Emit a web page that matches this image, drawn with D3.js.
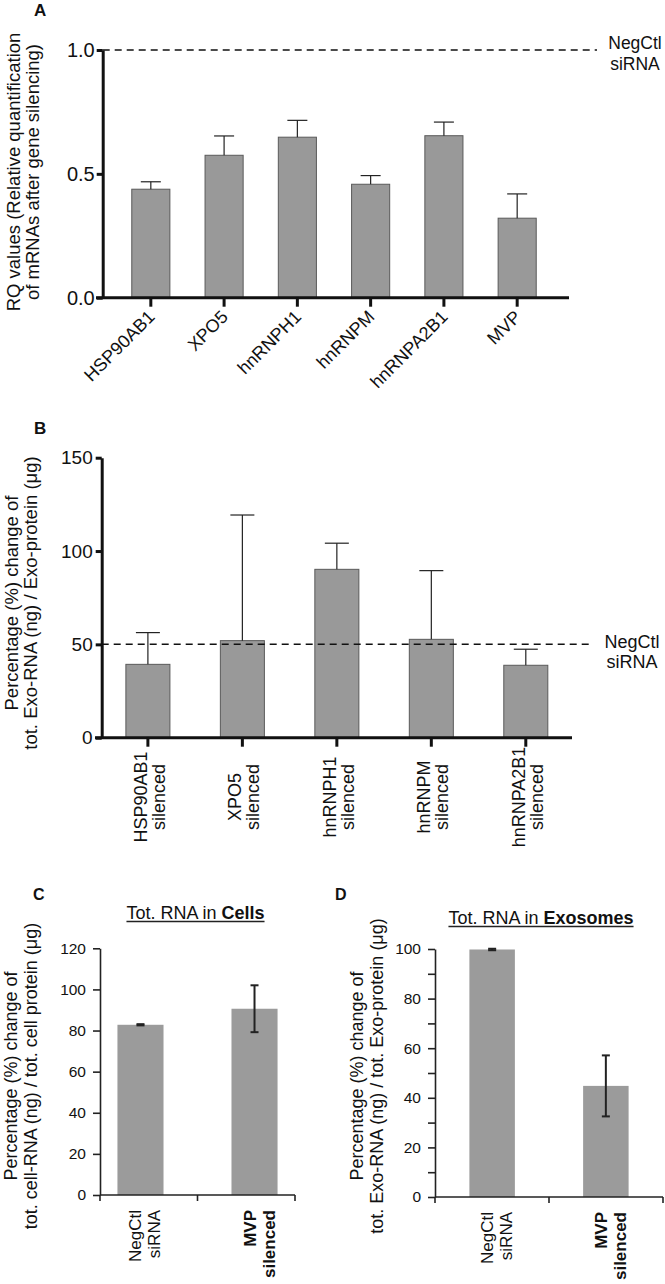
<!DOCTYPE html>
<html><head><meta charset="utf-8">
<script src="https://cdn.jsdelivr.net/npm/d3@7"></script>
<style>
body{margin:0;background:#fff;}
svg{display:block;background:#fff;}
text{font-family:"Liberation Sans",Arial,Helvetica,sans-serif;fill:#111;}
</style>
</head><body>
<svg id="c" width="665" height="1284"></svg>
<script>
// ---------- DATA ----------
// Panel A
const catsA = ["HSP90AB1","XPO5","hnRNPH1","hnRNPM","hnRNPA2B1","MVP"];
const valsA = [0.438,0.575,0.648,0.458,0.654,0.321];
const errA  = [0.030,0.078,0.068,0.035,0.055,0.098];
const ticksA = [0.0,0.5,1.0];
const refA = 1.0;
// Panel B
const catsB = ["HSP90AB1","XPO5","hnRNPH1","hnRNPM","hnRNPA2B1"];
const valsB = [39.3,52.0,90.2,52.7,38.8];
const errB  = [17.0,67.3,14.0,36.8,8.6];
const ticksB = [0,50,100,150];
const refB = 50;
// Panel C
const catsC = ["NegCtl siRNA","MVP silenced"];
const valsC = [82.8,90.6];
const errC  = [0.3,11.4];
const ticksC = [0,20,40,60,80,100,120];
// Panel D
const catsD = ["NegCtl siRNA","MVP silenced"];
const valsD = [99.8,44.8];
const errD  = [0.3,12.3];
const ticksD = [0,10,20,30,40,50,60,70,80,90,100];
const labelTicksD = [0,20,40,60,80,100];

const svg = d3.select("#c");
const INK = "#111";

function vtitle(x0, cy, lines, size, baselines){
  const g = svg.append("g").attr("transform",`translate(${x0},${cy}) rotate(-90)`);
  lines.forEach((t,i)=>{
    g.append("text").attr("x",0).attr("y",baselines[i]).attr("text-anchor","middle")
     .style("font-size",size+"px").text(t);
  });
}
function panelLetter(t,x,y,size){
  svg.append("text").attr("x",x).attr("y",y).style("font-size",size+"px").style("font-weight","bold").text(t);
}

// ---------- PANEL A ----------
(function(){
  const y = d3.scaleLinear().domain([0,1]).range([297.7,50]);
  const x = d3.scaleBand().domain(catsA).range([101,567]).paddingInner(0.48).paddingOuter(0.42);
  const axX = 102.7;
  panelLetter("A",34,16,17);
  svg.append("line").attr("x1",axX).attr("x2",597).attr("y1",y(refA)).attr("y2",y(refA))
    .attr("stroke",INK).attr("stroke-width",1.5).attr("stroke-dasharray","7,5");
  svg.append("text").attr("x",635).attr("y",49).attr("text-anchor","middle").style("font-size","17.5px").text("NegCtl");
  svg.append("text").attr("x",635).attr("y",70).attr("text-anchor","middle").style("font-size","17.5px").text("siRNA");
  svg.append("g").selectAll("rect").data(catsA).join("rect")
    .attr("x",d=>x(d)).attr("width",x.bandwidth())
    .attr("y",(d,i)=>y(valsA[i])).attr("height",(d,i)=>y(0)-y(valsA[i]))
    .attr("fill","#999999").attr("stroke","#5a5a5a").attr("stroke-width",1);
  const eg = svg.append("g").attr("stroke","#222").attr("stroke-width",1.2);
  catsA.forEach((c,i)=>{
    const cx = x(c)+x.bandwidth()/2;
    eg.append("line").attr("x1",cx).attr("x2",cx).attr("y1",y(valsA[i])).attr("y2",y(valsA[i]+errA[i]));
    eg.append("line").attr("x1",cx-10).attr("x2",cx+10).attr("y1",y(valsA[i]+errA[i])).attr("y2",y(valsA[i]+errA[i]));
  });
  const ga = svg.append("g").attr("transform",`translate(${axX},0)`)
    .call(d3.axisLeft(y).tickValues(ticksA).tickFormat(d3.format(".1f")).tickSize(6).tickSizeOuter(0).tickPadding(2));
  ga.select(".domain").attr("stroke",INK).attr("stroke-width",3);
  ga.selectAll(".tick line").attr("stroke",INK).attr("stroke-width",3);
  ga.selectAll(".tick text").style("font-size","20px").attr("fill",INK).attr("font-family",null);
  svg.append("line").attr("x1",96).attr("x2",569).attr("y1",y(0)).attr("y2",y(0)).attr("stroke",INK).attr("stroke-width",3);
  const gx = svg.append("g").attr("transform",`translate(0,${y(0)})`)
    .call(d3.axisBottom(x).tickSize(9).tickSizeOuter(0).tickFormat(""));
  gx.select(".domain").remove();
  gx.selectAll(".tick line").attr("stroke",INK).attr("stroke-width",3);
  svg.append("g").selectAll("text").data(catsA).join("text")
    .attr("transform",d=>`translate(${x(d)+x.bandwidth()/2+5},318) rotate(-45)`)
    .attr("text-anchor","end").style("font-size","18px").text(d=>d);
  vtitle(0,172,["RQ values (Relative quantification","of mRNAs after gene silencing)"],18.5,[20,39]);
})();

// ---------- PANEL B ----------
(function(){
  const y = d3.scaleLinear().domain([0,150]).range([737.7,457.7]);
  const x = d3.scaleBand().domain(catsB).range([101.7,572]).paddingInner(0.534).paddingOuter(0.256);
  const axX = 101.7;
  panelLetter("B",34,434,17);
  svg.append("g").selectAll("rect").data(catsB).join("rect")
    .attr("x",d=>x(d)).attr("width",x.bandwidth())
    .attr("y",(d,i)=>y(valsB[i])).attr("height",(d,i)=>y(0)-y(valsB[i]))
    .attr("fill","#999999").attr("stroke","#5a5a5a").attr("stroke-width",1);
  svg.append("line").attr("x1",axX).attr("x2",593).attr("y1",y(refB)).attr("y2",y(refB))
    .attr("stroke",INK).attr("stroke-width",1.5).attr("stroke-dasharray","7,5");
  svg.append("text").attr("x",632).attr("y",648).attr("text-anchor","middle").style("font-size","18px").text("NegCtl");
  svg.append("text").attr("x",632).attr("y",668).attr("text-anchor","middle").style("font-size","18px").text("siRNA");
  const eg = svg.append("g").attr("stroke","#222").attr("stroke-width",1.2);
  catsB.forEach((c,i)=>{
    const cx = x(c)+x.bandwidth()/2;
    eg.append("line").attr("x1",cx).attr("x2",cx).attr("y1",y(valsB[i])).attr("y2",y(valsB[i]+errB[i]));
    eg.append("line").attr("x1",cx-12).attr("x2",cx+12).attr("y1",y(valsB[i]+errB[i])).attr("y2",y(valsB[i]+errB[i]));
  });
  const ga = svg.append("g").attr("transform",`translate(${axX},0)`)
    .call(d3.axisLeft(y).tickValues(ticksB).tickSize(6).tickSizeOuter(0).tickPadding(3));
  ga.select(".domain").attr("stroke",INK).attr("stroke-width",3);
  ga.selectAll(".tick line").attr("stroke",INK).attr("stroke-width",3);
  ga.selectAll(".tick text").style("font-size","19px").attr("fill",INK).attr("font-family",null);
  svg.append("line").attr("x1",95).attr("x2",572).attr("y1",y(0)).attr("y2",y(0)).attr("stroke",INK).attr("stroke-width",3);
  const gx = svg.append("g").attr("transform",`translate(0,${y(0)})`)
    .call(d3.axisBottom(x).tickSize(9).tickSizeOuter(0).tickFormat(""));
  gx.select(".domain").remove();
  gx.selectAll(".tick line").attr("stroke",INK).attr("stroke-width",3);
  catsB.forEach(c=>{
    const g = svg.append("g").attr("transform",`translate(${x(c)+x.bandwidth()/2},797) rotate(-90)`);
    g.append("text").attr("y",-1).attr("text-anchor","middle").style("font-size","18px").text(c);
    g.append("text").attr("y",17).attr("text-anchor","middle").style("font-size","18px").text("silenced");
  });
  vtitle(0,603,["Percentage (%) change of","tot. Exo-RNA (ng) / Exo-protein (μg)"],18.5,[18,37]);
})();

// ---------- PANELS C & D (Excel style) ----------
function excelPanel(o){
  const y = d3.scaleLinear().domain([0,o.max]).range([o.y0,o.yTop]);
  const x = d3.scaleBand().domain(o.cats).range([o.x0,o.x1]).paddingInner(o.pi).paddingOuter(o.po);
  panelLetter(o.letter,o.letterX,900,16);
  const t = svg.append("text").attr("x",o.titleX).attr("y",o.titleY).attr("text-anchor","middle").style("font-size","18px");
  t.append("tspan").text("Tot. RNA in ");
  t.append("tspan").style("font-weight","bold").text(o.titleBold);
  const bb = t.node().getBBox();
  svg.append("line").attr("x1",bb.x).attr("x2",bb.x+bb.width).attr("y1",o.titleY+2.5).attr("y2",o.titleY+2.5)
    .attr("stroke","#222").attr("stroke-width",1.3);
  svg.append("g").selectAll("rect").data(o.cats).join("rect")
    .attr("x",d=>x(d)).attr("width",x.bandwidth())
    .attr("y",(d,i)=>y(o.vals[i])).attr("height",(d,i)=>y(0)-y(o.vals[i]))
    .attr("fill","#9b9b9b");
  const eg = svg.append("g").attr("stroke","#222").attr("stroke-width",2);
  o.cats.forEach((c,i)=>{
    const cx = x(c)+x.bandwidth()/2, hi=y(o.vals[i]+o.errs[i]), lo=y(o.vals[i]-o.errs[i]);
    eg.append("line").attr("x1",cx).attr("x2",cx).attr("y1",lo).attr("y2",hi);
    eg.append("line").attr("x1",cx-4).attr("x2",cx+4).attr("y1",hi).attr("y2",hi);
    eg.append("line").attr("x1",cx-4).attr("x2",cx+4).attr("y1",lo).attr("y2",lo);
  });
  const ga = svg.append("g").attr("transform",`translate(${o.x0},0)`)
    .call(d3.axisLeft(y).tickValues(o.ticks).tickSize(7).tickSizeOuter(0).tickPadding(7)
      .tickFormat(d=>o.labelTicks.includes(d)?d:""));
  ga.select(".domain").attr("stroke","#222").attr("stroke-width",1.6);
  ga.selectAll(".tick line").attr("stroke","#222").attr("stroke-width",1.6);
  ga.selectAll(".tick text").style("font-size","15.5px").attr("fill",INK).attr("font-family",null);
  svg.append("line").attr("x1",o.x0).attr("x2",o.x1).attr("y1",y(0)).attr("y2",y(0)).attr("stroke","#222").attr("stroke-width",1.6);
  const bounds = [o.x0,(o.x0+o.x1)/2,o.x1];
  svg.append("g").selectAll("line").data(bounds).join("line")
    .attr("x1",d=>d).attr("x2",d=>d).attr("y1",y(0)).attr("y2",y(0)+6).attr("stroke","#222").attr("stroke-width",1.6);
  o.cats.forEach((c,i)=>{
    const parts = c.split(" ");
    const g = svg.append("g").attr("transform",`translate(${x(c)+x.bandwidth()/2},${y(0)+15}) rotate(-90)`);
    parts.forEach((p,j)=>{
      g.append("text").attr("y",1+j*19).attr("text-anchor","end").style("font-size","17px")
        .style("font-weight",i===1?"bold":"normal").text(p);
    });
  });
  vtitle(o.titleLeft,1076,["Percentage (%) change of",o.ytitle2],18,[17,37]);
}
excelPanel({cats:catsC,vals:valsC,errs:errC,max:120,ticks:ticksC,labelTicks:ticksC,
  y0:1195,yTop:948.3,x0:100,x1:295,pi:0.596,po:0.153,letter:"C",letterX:33,
  titleX:195.5,titleY:919,titleBold:"Cells",titleLeft:0,
  ytitle2:"tot. cell-RNA (ng) / tot. cell protein (μg)"});
excelPanel({cats:catsD,vals:valsD,errs:errD,max:100,ticks:ticksD,labelTicks:labelTicksD,
  y0:1197,yTop:949,x0:435,x1:663,pi:0.6,po:0.3025,letter:"D",letterX:335,
  titleX:541,titleY:924,titleBold:"Exosomes",titleLeft:346,
  ytitle2:"tot. Exo-RNA (ng) / tot. Exo-protein (μg)"});
</script>
</body></html>
